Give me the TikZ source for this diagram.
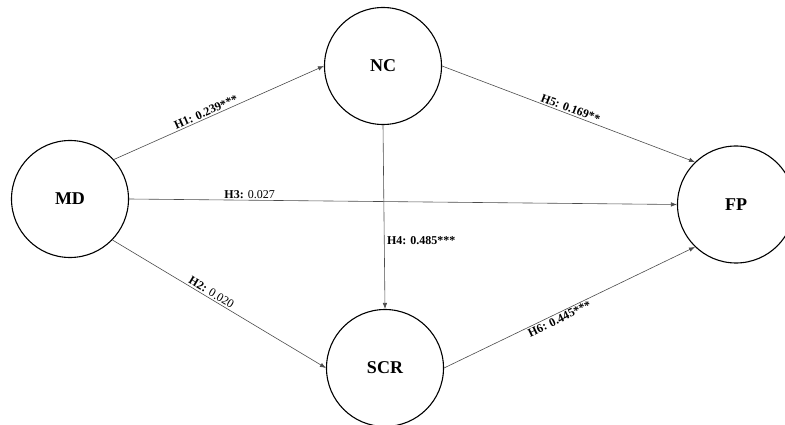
\documentclass[tikz,border=0pt]{standalone}
\usepackage{fontspec}
\setmainfont{Liberation Serif}
\usetikzlibrary{arrows.meta}
\begin{document}
\begin{tikzpicture}[x=1pt,y=-1pt,
  construct/.style={circle,draw=black,line width=1.1pt,minimum size=117pt,inner sep=0pt,font=\fontsize{18}{20}\selectfont\bfseries},
  path/.style={draw=black!70,line width=0.6pt,-{Latex[length=6pt,width=4.5pt]}},
  lbl/.style={font=\fontsize{12}{14}\selectfont,inner sep=1.5pt}]
\useasboundingbox (0,0) rectangle (785,425);
\node[construct] (MD) at (70,199) {MD};
\node[construct] (NC) at (383,66) {NC};
\node[construct] (SCR) at (385,368) {SCR};
\node[construct] (FP) at (736,204.5) {FP};
\draw[path] (MD.42) -- node[lbl,sloped,above,pos=0.45]{\textbf{H1: 0.239***}} (NC.west);
\draw[path] (MD.east) -- node[lbl,above,pos=0.22]{\textbf{H3:} 0.027} (FP.west);
\draw[path] (MD.-44) -- node[lbl,sloped,above,pos=0.45]{\textbf{H2:} 0.020} (SCR.west);
\draw[path] (NC.south) -- node[lbl,right,pos=0.63,xshift=1pt]{\textbf{H4: 0.485***}} (SCR.north);
\draw[path] (NC.east) -- node[lbl,sloped,above,pos=0.5]{\textbf{H5: 0.169**}} (FP.134);
\draw[path] (SCR.east) -- node[lbl,sloped,below,pos=0.45]{\textbf{H6: 0.445***}} (FP.226);
\end{tikzpicture}
\end{document}
